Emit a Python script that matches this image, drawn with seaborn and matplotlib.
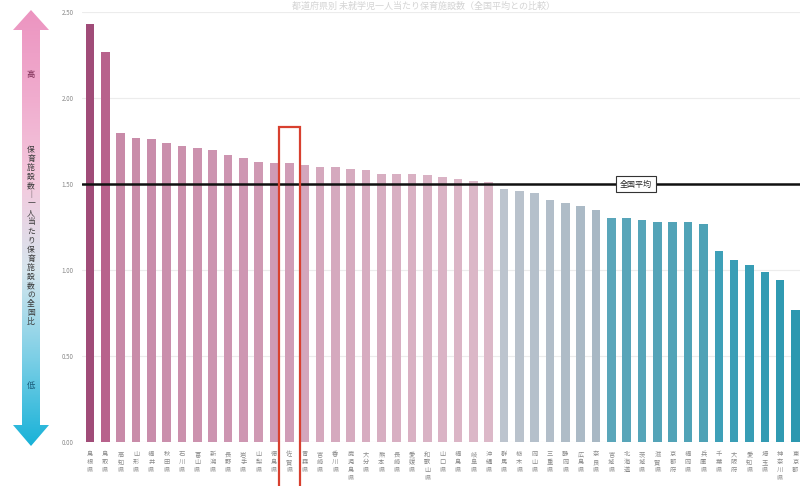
import numpy as np
import matplotlib.pyplot as plt
import matplotlib.colors as mcolors
from matplotlib.patches import Polygon, Rectangle
import seaborn as sns

# prefectures, ranked
prefs = ["島根県", "鳥取県", "高知県", "山形県", "福井県", "秋田県", "石川県", "富山県",
         "新潟県", "長野県", "岩手県", "山梨県", "徳島県", "佐賀県", "青森県", "宮崎県",
         "香川県", "鹿児島県", "大分県", "熊本県", "長崎県", "愛媛県", "和歌山県", "山口県",
         "福島県", "岐阜県", "沖縄県", "群馬県", "栃木県", "岡山県", "三重県", "静岡県",
         "広島県", "奈良県", "宮城県", "北海道", "茨城県", "滋賀県", "京都府", "福岡県",
         "兵庫県", "千葉県", "大阪府", "愛知県", "埼玉県", "神奈川県", "東京都"]
values = [2.43, 2.27, 1.80, 1.77, 1.76, 1.74, 1.72, 1.71, 1.70, 1.67, 1.65, 1.63,
          1.62, 1.62, 1.61, 1.60, 1.60, 1.59, 1.58, 1.56, 1.56, 1.56, 1.55, 1.54,
          1.53, 1.52, 1.51, 1.47, 1.46, 1.45, 1.41, 1.39, 1.37, 1.35, 1.30, 1.30,
          1.29, 1.28, 1.28, 1.28, 1.27, 1.11, 1.06, 1.03, 0.99, 0.94, 0.77]
national_avg = 1.50
highlight = 13
yticks = [0.0, 0.5, 1.0, 1.5, 2.0, 2.5]
ytick_labels = ["0.00", "0.50", "1.00", "1.50", "2.00", "2.50"]
avg_label = "全国平均"
arrow_text = "保育施設数｜一人当たり保育施設数の全国比"
title = "都道府県別 未就学児一人当たり保育施設数（全国平均との比較）"


def blend(c1, c2, n):
    a, b = np.array(mcolors.to_rgb(c1)), np.array(mcolors.to_rgb(c2))
    return [tuple(a + (b - a) * t) for t in np.linspace(0, 1, n)]


palette = (["#a04c78", "#b8628c"]
           + blend("#c88aa8", "#d09cb6", 12)
           + blend("#d4a6bc", "#dcb8c8", 13)
           + blend("#bcc4ce", "#a8b8c4", 7)
           + blend("#5aa6ba", "#4ea2b6", 7)
           + blend("#3ea0b8", "#2c98b0", 6))

sns.set_theme(style="white")
plt.rcParams['font.family'] = ['Noto Sans CJK JP', 'DejaVu Sans']

fig = plt.figure(figsize=(8, 4.86), dpi=100)
ax = fig.add_axes([0.1025, 0.0905, 0.8975, 0.8845])

sns.barplot(x=prefs, y=values, hue=prefs, palette=palette, width=0.55, saturation=1,
            legend=False, ax=ax, edgecolor="none", zorder=2)

ax.set_xlim(-0.52, 46.3)
ax.set_ylim(0, 2.5)
ax.set_yticks(yticks)
ax.set_yticklabels(ytick_labels, fontsize=4.5, color="#888888")
ax.set_xticks(range(len(prefs)))
ax.set_xticklabels(["\n".join(p) for p in prefs], fontsize=4.5, color="#8a8a8a",
                   linespacing=1.0, va="top")
ax.tick_params(axis="both", length=0, pad=6)
ax.set_xlabel("")
ax.set_ylabel("")
for s in ax.spines.values():
    s.set_visible(False)
ax.yaxis.grid(True, color="#ececec", lw=0.8, zorder=0)

# national average line
ax.axhline(national_avg, color="#111111", lw=1.8, zorder=3)
ax.text(35.6, national_avg, avg_label, fontsize=5.8, ha="center", va="center", zorder=4,
        bbox=dict(boxstyle="square,pad=0.45", fc="white", ec="#333333", lw=0.8))

# highlighted prefecture
ax.add_patch(Rectangle((highlight - 0.67, -0.35), 1.34, values[highlight] + 0.56,
                       fill=False, ec="#d8402f", lw=1.6, clip_on=False, zorder=5))

# gradient arrow on the left
aax = fig.add_axes([0, 0, 0.08, 1])
aax.set_xlim(0, 64)
aax.set_ylim(486, 0)
aax.axis("off")
arrow_pts = [(31, 10), (49, 30), (40, 30), (40, 425), (49, 425), (31, 446),
             (13, 425), (22, 425), (22, 30), (13, 30)]
cmap = mcolors.LinearSegmentedColormap.from_list(
    "arr", ["#ec94c0", "#f0acce", "#f4cade", "#d6e6ee", "#7ccfe6", "#18b2d8"])
grad = np.linspace(0, 1, 256).reshape(-1, 1)
im = aax.imshow(grad, cmap=cmap, extent=(13, 49, 446, 10), aspect="auto")
poly = Polygon(arrow_pts, closed=True, fc="none", ec="none")
aax.add_patch(poly)
im.set_clip_path(poly)
aax.text(31, 75, "高", fontsize=6, ha="center", va="center", color="#7a2a52")
aax.text(31, 236, "\n".join(arrow_text), fontsize=5.6, ha="center", va="center",
         color="#3a3a3a", linespacing=1.18)
aax.text(31, 385, "低", fontsize=6, ha="center", va="center", color="#1a5a78")

fig.text(0.53, 0.987, title, fontsize=6.5, ha="center", va="center", color="#d4d4d4")

fig.savefig("out.png", dpi=100)
